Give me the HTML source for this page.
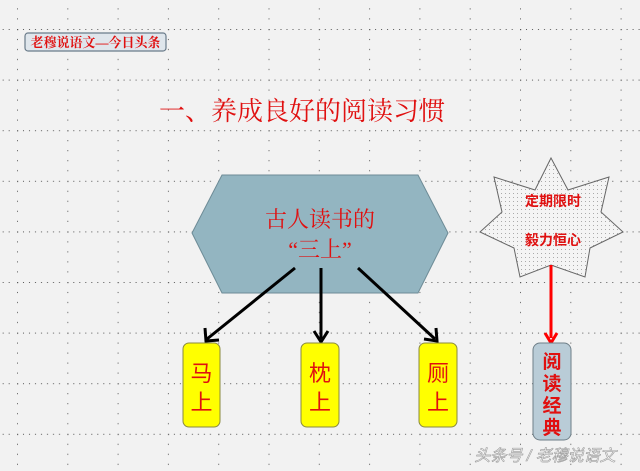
<!DOCTYPE html>
<html><head><meta charset="utf-8"><style>
html,body{margin:0;padding:0;background:#f2f2f2;}
svg{display:block;}
text{font-family:"Liberation Sans","Noto Sans CJK SC",sans-serif;}
.s{font-family:"Liberation Serif","Noto Serif CJK SC",serif;}
</style></head><body>
<svg width="640" height="471" viewBox="0 0 640 471" xmlns="http://www.w3.org/2000/svg">
<defs>
<pattern id="g" x="17" y="29" width="50.3" height="50.6" patternUnits="userSpaceOnUse">
<rect x="0" y="0" width="1.2" height="1.2" fill="#555"/>
<rect x="6" y="0" width="1" height="1" fill="#555"/><rect x="12" y="0" width="1" height="1" fill="#555"/>
<rect x="18" y="0" width="1" height="1" fill="#555"/><rect x="24" y="0" width="1" height="1" fill="#555"/>
<rect x="30" y="0" width="1" height="1" fill="#555"/><rect x="36" y="0" width="1" height="1" fill="#555"/>
<rect x="42" y="0" width="1" height="1" fill="#555"/>
<rect x="0" y="10" width="1" height="1" fill="#555"/><rect x="0" y="20" width="1" height="1" fill="#555"/>
<rect x="0" y="30" width="1" height="1" fill="#555"/><rect x="0" y="40" width="1" height="1" fill="#555"/>
</pattern>
<pattern id="d" width="4" height="4" patternUnits="userSpaceOnUse">
<rect width="4" height="4" fill="#f4f4f4"/><rect x="1" y="1" width="1" height="1" fill="#aaa"/>
</pattern>
</defs>
<rect width="640" height="471" fill="#f2f2f2"/>
<rect width="640" height="471" fill="url(#g)"/>
<rect x="25" y="33" width="141" height="18" rx="3" fill="#dfe6ec" stroke="#6a7b8a" stroke-width="1.2"/>
<text x="95.5" y="47" font-size="13" font-weight="bold" fill="#e01010" text-anchor="middle" class="s">老穆说语文—今日头条</text>
<text x="302" y="120" font-size="26" fill="#e01010" text-anchor="middle" class="s">一、养成良好的阅读习惯</text>
<polygon points="192,233 222,175 418,175 448,233 418,293 222,293" fill="#93b5c1" stroke="#6d8b96" stroke-width="1"/>
<text x="320" y="227" font-size="22" fill="#e01010" text-anchor="middle" class="s">古人读书的</text>
<text x="320" y="257" font-size="22" fill="#e01010" text-anchor="middle" class="s">“三上”</text>
<g stroke="#000" stroke-width="3" fill="none">
<line x1="295" y1="268" x2="207" y2="339"/>
<line x1="321" y1="268" x2="321" y2="339"/>
<line x1="358" y1="268" x2="435" y2="339"/>
</g>
<g fill="none" stroke="#000" stroke-width="3">
<polyline points="205,328 206,341 219,340"/>
<polyline points="314,331 321,342 328,331"/>
<polyline points="424,339 437,341 436,328"/>
</g>
<g fill="#ffff00" stroke="#8a8a40" stroke-width="1">
<rect x="183" y="343" width="37" height="84" rx="6"/>
<rect x="301" y="343" width="38" height="84" rx="6"/>
<rect x="419" y="343" width="38" height="84" rx="6"/>
</g>
<g font-size="22" fill="#e01010" text-anchor="middle" class="s">
<text x="201.5" y="381">马</text><text x="201.5" y="410">上</text>
<text x="320" y="381">枕</text><text x="320" y="410">上</text>
<text x="438" y="381">厕</text><text x="438" y="410">上</text>
</g>
<polygon points="551,158 568,190 609,177 601,212 623,232 590,248 585,277 551,265 520,277 514,248 480,232 502,212 494,177 535,190" fill="url(#d)" stroke="#666" stroke-width="1"/>
<text x="553" y="206" font-size="14" font-weight="bold" fill="#e01010" text-anchor="middle">定期限时</text>
<text x="553" y="245" font-size="14" font-weight="bold" fill="#e01010" text-anchor="middle">毅力恒心</text>
<line x1="551" y1="265" x2="551" y2="338" stroke="#ff0000" stroke-width="3"/>
<polyline points="545,333 551,343 557,333" fill="none" stroke="#ff0000" stroke-width="3"/>
<rect x="533" y="343" width="38" height="97" rx="7" fill="#b9ccd7" stroke="#6f7f88" stroke-width="1"/>
<g font-size="19" font-weight="bold" fill="#e01010" text-anchor="middle" class="s">
<text x="552" y="368">阅</text><text x="552" y="390">读</text><text x="552" y="412">经</text><text x="552" y="434">典</text>
</g>
<text x="545" y="461" font-size="16" fill="#fff" stroke="#999" stroke-width="0.6" text-anchor="middle" font-style="italic">头条号 / 老穆说语文</text>
</svg>
</body></html>
